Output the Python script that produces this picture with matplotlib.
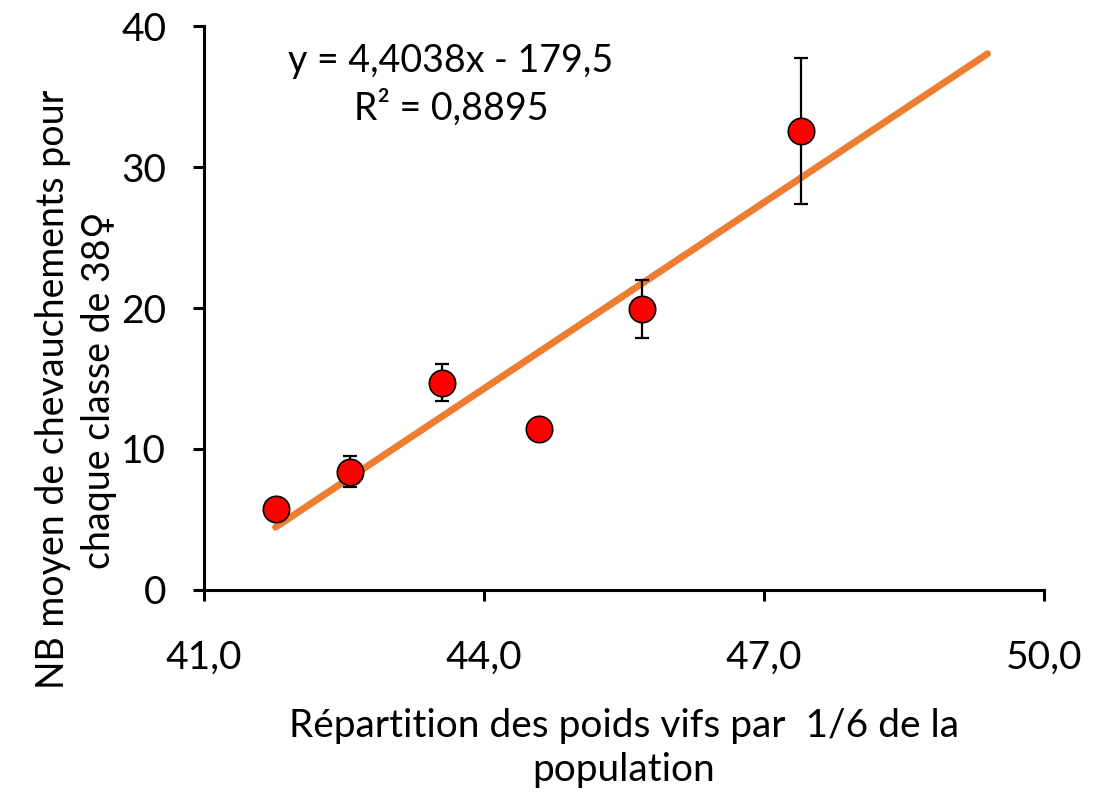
import matplotlib
matplotlib.use("Agg")
import matplotlib.pyplot as plt
import numpy as np

# poids vifs (x) / nb moyen de chevauchements (y) / erreur
poids = [41.77, 42.57, 43.55, 44.59, 45.70, 47.40]
chevauch = [5.74, 8.39, 14.70, 11.40, 19.91, 32.55]
erreur = [0.0, 1.1, 1.3, 0.2, 2.05, 5.2]

pente = 4.4038
origine = -179.5
r2 = 0.8895
x_fin = 49.4

xticks = [41, 44, 47, 50]
xtick_labels = ["41,0", "44,0", "47,0", "50,0"]
yticks = [0, 10, 20, 30, 40]

plt.rcParams['font.family'] = ['Lato', 'DejaVu Sans']

fig = plt.figure(figsize=(10.95, 7.96), dpi=100)
ax = fig.add_axes([0.186, 0.259, 0.767, 0.708])

# courbe de tendance
xt = np.array([min(poids), x_fin])
ax.plot(xt, pente * xt + origine, color='#ED7D31', lw=5, solid_capstyle='round', zorder=2)

ax.errorbar(poids, chevauch, yerr=erreur, fmt='none', ecolor='black',
            elinewidth=1.6, capsize=5, capthick=1.6, zorder=3)
ax.plot(poids, chevauch, 'o', color='#FF0000', markeredgecolor='black',
        markeredgewidth=1.2, markersize=19, zorder=4)

ax.set_xlim(41, 50)
ax.set_ylim(0, 40)
ax.set_xticks(xticks)
ax.set_xticklabels(xtick_labels)
ax.set_yticks(yticks)
ax.tick_params(axis='both', labelsize=28, width=2.2, length=8, direction='out')
ax.tick_params(axis='x', pad=28)
ax.tick_params(axis='y', pad=19)

for s in ['top', 'right']:
    ax.spines[s].set_visible(False)
for s in ['left', 'bottom']:
    ax.spines[s].set_linewidth(2.2)

ax.set_xlabel("Répartition des poids vifs par  1/6 de la\npopulation", fontsize=28, labelpad=23,
              linespacing=1.3)
ax.set_ylabel("NB moyen de chevauchements pour\nchaque classe de 38♀", fontsize=27,
              linespacing=1.35)
ax.yaxis.set_label_coords(-0.103, 0.355)

eq = "y = " + f"{pente:.4f}".replace('.', ',') + "x - " + f"{-origine:.1f}".replace('.', ',')
eq += "\nR² = " + f"{r2:.4f}".replace('.', ',')
ax.text(43.65, 38.8, eq, fontsize=27, ha='center', va='top', linespacing=1.35)

fig.savefig("out.png", dpi=100)
